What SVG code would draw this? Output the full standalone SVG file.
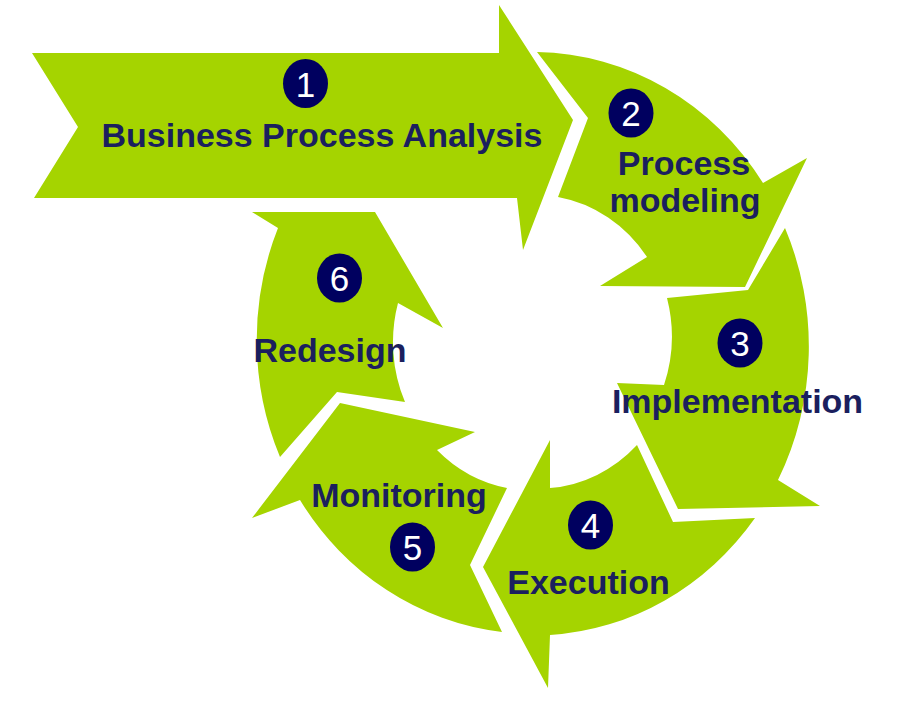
<svg xmlns="http://www.w3.org/2000/svg" width="901" height="722" viewBox="0 0 901 722">
<style>
.arrow{fill:#a5d400;stroke:none}
.lbl{font-family:"Liberation Sans",Arial,sans-serif;font-weight:bold;font-size:34px;fill:#1b1f5e;text-anchor:middle}
.badge{fill:#00005f}
.num{font-family:"Liberation Sans",Arial,sans-serif;font-size:35px;fill:#ffffff;text-anchor:middle}
</style>
<rect width="901" height="722" fill="#ffffff"/>
<g id="connectors"></g>
<g id="step1">
<path class="arrow" d="M32,53 L499,53 L499,5 L573,120 L523,250 L517,198 L34,198 L78,127 Z"/>
<ellipse class="badge" cx="305.5" cy="83.5" rx="22.5" ry="24.5"/>
<text class="num" x="305.5" y="97">1</text>
<text class="lbl" x="322" y="147">Business Process Analysis</text>
</g>
<g id="step2">
<path class="arrow" d="M537,52 A276,291 0 0 1 763,183 L807,158 L745,287 L600,286 L647,257 A137,146 0 0 0 558,197 L588,118 Z"/>
<ellipse class="badge" cx="631" cy="113" rx="22.5" ry="24.5"/>
<text class="num" x="631" y="126">2</text>
<text class="lbl" x="684" y="175">Process</text>
<text class="lbl" x="685" y="212">modeling</text>
</g>
<g id="step3">
<path class="arrow" d="M785,228 A276,291 0 0 1 778,480 L820,506 L678,509 L617,383 L664,385 A137,146 0 0 0 667,298 L748,290 Z"/>
<ellipse class="badge" cx="740" cy="343" rx="22.5" ry="24.5"/>
<text class="num" x="740" y="356">3</text>
<text class="lbl" x="737.5" y="413">Implementation</text>
</g>
<g id="step4">
<path class="arrow" d="M755,518 A276,291 0 0 1 550,635 L548,688 L483,567 L550,440 L550,488 A137,146 0 0 0 637,445 L673,522 Z"/>
<ellipse class="badge" cx="590.5" cy="525" rx="22.5" ry="24.5"/>
<text class="num" x="590.5" y="538">4</text>
<text class="lbl" x="588.5" y="594">Execution</text>
</g>
<g id="step5">
<path class="arrow" d="M502,632 A276,291 0 0 1 300,500 L252,518 L340,403 L475,432 L437,450 A137,146 0 0 0 507,488 L470,565 Z"/>
<ellipse class="badge" cx="412.5" cy="547" rx="22.5" ry="24.5"/>
<text class="num" x="412.5" y="560">5</text>
<text class="lbl" x="399" y="507">Monitoring</text>
</g>
<g id="step6">
<path class="arrow" d="M280,457 A276,291 0 0 1 278,228 L252,212 L375,212 L443,328 L398,303 A137,146 0 0 0 405,402 L337,392 Z"/>
<ellipse class="badge" cx="339.5" cy="278" rx="22.5" ry="24.5"/>
<text class="num" x="339.5" y="291">6</text>
<text class="lbl" x="330" y="362">Redesign</text>
</g>
</svg>
